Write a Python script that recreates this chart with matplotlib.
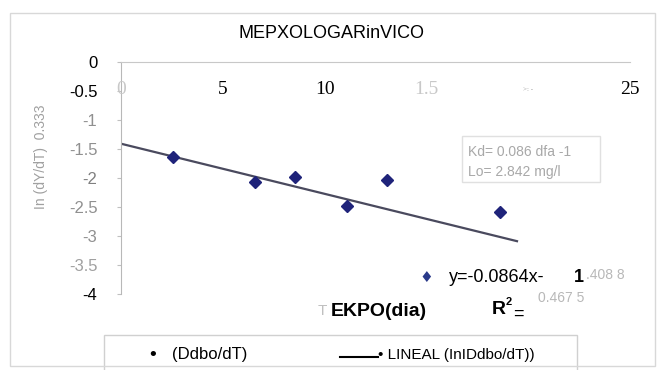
import matplotlib.pyplot as plt
from matplotlib.patches import Rectangle

# data
days = [2.55, 6.6, 8.55, 11.1, 13.05, 18.6]
ln_rate = [-1.63, -2.07, -1.98, -2.49, -2.03, -2.59]
slope = -0.0864
intercept = -1.4088
fit_x = [0, 19.45]

x_ticks = [0, 5, 10, 15, 20, 25]
x_tick_text = ["0", "5", "10", "1.5", ">: -", "25"]
x_tick_color = ["#c8c8c8", "black", "black", "#c8c8c8", "#909090", "black"]
y_ticks = [0, -0.5, -1, -1.5, -2, -2.5, -3, -3.5, -4]
y_tick_text = ["0", "-0.5", "-1", "-1.5", "-2", "-2.5", "-3", "-3.5", "-4"]
y_tick_color = ["black", "black", "#909090", "#909090", "#808080", "#909090",
                "#909090", "#a0a0a0", "black"]

W, H = 665, 370
fig = plt.figure(figsize=(W / 100, H / 100), dpi=100)
plt.rcParams['font.family'] = ['Liberation Sans', 'DejaVu Sans']


def fp(x, y):
    # pixel position -> figure fraction
    return x / W, 1 - y / H


# plot area: x 0..25 -> px 121..630, y 0..-4 -> px 62..294
ax = fig.add_axes([121 / W, (H - 294) / H, 509 / W, 232 / H])
ax.set_xlim(0, 25)
ax.set_ylim(-4, 0)
for s in ['right', 'bottom']:
    ax.spines[s].set_visible(False)
ax.spines['top'].set_color('#c8c8c8')
ax.spines['left'].set_color('#b8b8b8')
ax.patch.set_alpha(0)

ax.set_xticks([])
ax.set_yticks(y_ticks)
ax.set_yticklabels(y_tick_text, fontsize=12)
for lab, c in zip(ax.get_yticklabels(), y_tick_color):
    lab.set_color(c)
ax.tick_params(axis='y', length=3, color='#c0c0c0', pad=14)

for xv, t, c in zip(x_ticks, x_tick_text, x_tick_color):
    size = 5 if t.startswith('>') else 14
    ax.text(xv, -0.47, t, ha='center', va='center', fontsize=size, color=c,
            family='Liberation Serif')

# trend line and points
ax.plot(fit_x, [slope * v + intercept for v in fit_x], color='#4a4a5e', lw=1.6)
ax.plot(days, ln_rate, 'D', color='#1f237a', markersize=6.5, ls='none')

fig.text(*fp(41, 157), "In (dY/dT)  0.333", rotation=90,
         ha='center', va='center', fontsize=10, color='#a0a0a0')
fig.text(*fp(332, 33), "MEPXOLOGARinVICO", fontsize=13, ha='center', va='center')

# info box
fig.patches.append(Rectangle(fp(462, 182), 138 / W, 46 / H, transform=fig.transFigure,
                             fill=False, edgecolor='#e0e0e0', lw=1))
fig.text(*fp(468, 152), "Kd= 0.086 dfa -1", fontsize=10, color='#a8a8a8', va='center')
fig.text(*fp(468, 172), "Lo= 2.842 mg/l", fontsize=10, color='#a8a8a8', va='center')

# equation
fig.text(*fp(426, 278), "\u2666", fontsize=11, color='#2a3a8a', ha='center', va='center',
         family='DejaVu Sans')
fig.text(*fp(449, 278), "y=-0.0864x-", fontsize=13, va='center')
fig.text(*fp(574, 278), "1", fontsize=13, weight='bold', va='center')
fig.text(*fp(586, 275), ".408 8", fontsize=10, color='#b8b8b8', va='center')
fig.text(*fp(318, 311), "T", fontsize=11, color='#c0c0c0', va='center')
fig.text(*fp(331, 311), "EKPO(dia)", fontsize=14, weight='bold', va='center')
fig.text(*fp(492, 310), "R", fontsize=14, weight='bold', va='center')
fig.text(*fp(506, 302), "2", fontsize=8, weight='bold', va='center')
fig.text(*fp(513, 314), "=", fontsize=13, va='center')
fig.text(*fp(538, 298), "0.467 5", fontsize=10, color='#b8b8b8', va='center')

# legend box
fig.patches.append(Rectangle(fp(104, 372), 473 / W, 37 / H, transform=fig.transFigure,
                             fill=False, edgecolor='#d0d0d0', lw=1))
fig.text(*fp(153, 355), "\u2022", fontsize=14, ha='center', va='center')
fig.text(*fp(172, 355), "(Ddbo/dT)", fontsize=12, va='center')
fig.add_artist(plt.Line2D([340 / W, 378 / W], [1 - 357 / H] * 2, color='black', lw=1.5))
fig.text(*fp(378, 355), "\u2022 LINEAL (InIDdbo/dT))", fontsize=11, va='center')

# outer chart border
fig.patches.append(Rectangle(fp(10, 366), 645 / W, 353 / H, transform=fig.transFigure,
                             fill=False, edgecolor='#d8d8d8', lw=1))

fig.savefig("out.png", dpi=100)
